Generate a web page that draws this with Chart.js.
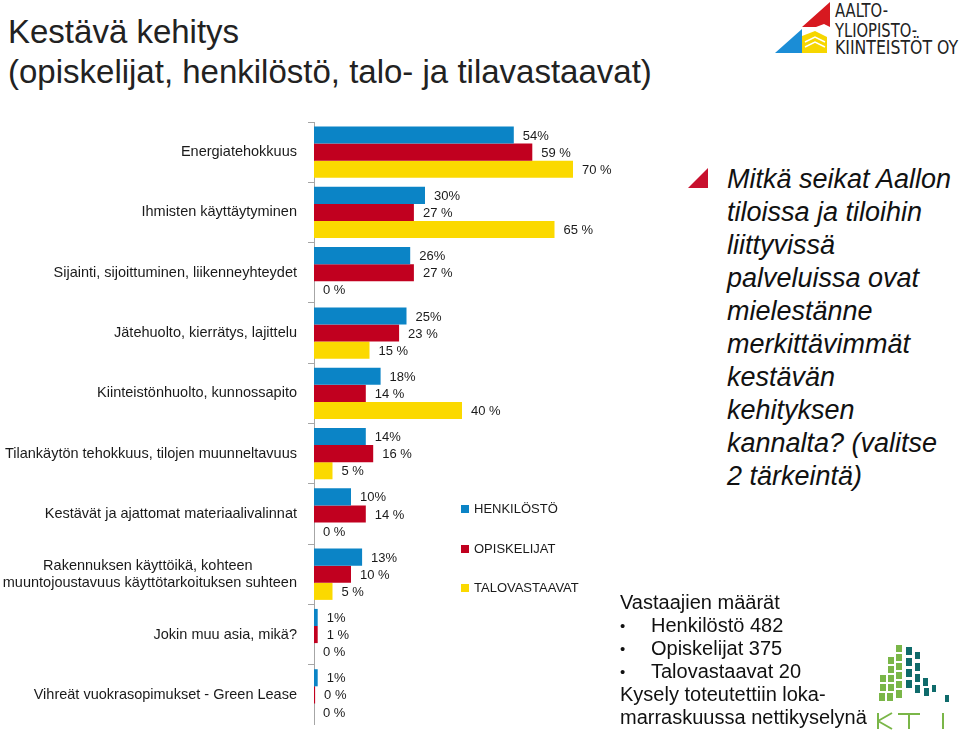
<!DOCTYPE html>
<html>
<head>
<meta charset="utf-8">
<script src="https://cdn.jsdelivr.net/npm/chart.js@4/dist/chart.umd.min.js"></script>
<style>
  body { margin: 0; width: 960px; height: 733px; background: #fff; position: relative; overflow: hidden; font-family: Arial, "Liberation Sans", sans-serif; color: #1a1a1a; }
  #title { position: absolute; left: 8px; top: 12px; font-size: 33px; line-height: 40px; color: #222; }
  #wrap { position: absolute; left: 0; top: 122px; width: 684px; height: 603px; }
  #legend { position: absolute; left: 461px; top: 501px; font-size: 13px; }
  #legend div { height: 39.5px; display: flex; align-items: flex-start; }
  #legend span.box { display: inline-block; width: 8px; height: 8px; margin: 4px 5px 0 0; }
  #question { position: absolute; left: 727px; top: 163px; font-size: 27px; line-height: 33px; font-style: italic; color: #111; }
  #marker { position: absolute; left: 688px; top: 168px; }
  #info { position: absolute; left: 620px; top: 591px; font-size: 20px; line-height: 23px; color: #111; }
  #info .b { padding-left: 31px; position: relative; }
  #info .b:before { content: "\2022"; position: absolute; left: 0; font-size: 15px; }
  #logo { position: absolute; left: 770px; top: 0; }
  #kti { position: absolute; left: 870px; top: 635px; }
</style>
</head>
<body>
<div id="title">Kestävä kehitys<br>(opiskelijat, henkilöstö, talo- ja tilavastaavat)</div>

<svg id="logo" width="190" height="60">
  <polygon points="32,27 60,2 60,27 54,24 46,27" fill="#d71920"/>
  <polygon points="5,53 32,29 32,53" fill="#1b8dd6"/>
  <polygon points="32,53 32,36 45,31 57,37 57,53" fill="#f6d600"/>
  <polyline points="35,42 45,37 55,42" stroke="#fff" stroke-width="1.5" fill="none"/>
  <polyline points="35,47 45,42 55,47" stroke="#fff" stroke-width="1.5" fill="none"/>
  <g font-family="'Liberation Sans Narrow', 'DejaVu Sans Condensed', Arial" font-size="19" fill="#222">
    <text x="65" y="17" textLength="53" lengthAdjust="spacingAndGlyphs">AALTO-</text>
    <text x="65" y="37" textLength="82" lengthAdjust="spacingAndGlyphs">YLIOPISTO-</text>
    <text x="65" y="54" textLength="123" lengthAdjust="spacingAndGlyphs">KIINTEISTÖT OY</text>
  </g>
</svg>

<div id="wrap"><canvas id="chart"></canvas></div>
<div id="legend"></div>

<svg id="marker" width="22" height="22"><polygon points="0,20 20,0 20,20" fill="#c8102e"/></svg>
<div id="question">Mitkä seikat Aallon<br>tiloissa ja tiloihin<br>liittyvissä<br>palveluissa ovat<br>mielestänne<br>merkittävimmät<br>kestävän<br>kehityksen<br>kannalta? (valitse<br>2 tärkeintä)</div>

<div id="info">Vastaajien määrät<div class="b">Henkilöstö 482</div><div class="b">Opiskelijat 375</div><div class="b">Talovastaavat 20</div>Kysely toteutettiin loka-<br>marraskuussa nettikyselynä</div>

<svg id="kti" width="90" height="98">
  <g fill="#7ab648">
    <rect x="10" y="40" width="6" height="7"/><rect x="10" y="49" width="6" height="7"/><rect x="9" y="58" width="6" height="8"/>
    <rect x="18" y="22" width="6" height="7"/><rect x="18" y="31" width="6" height="7"/><rect x="18" y="40" width="6" height="7"/><rect x="18" y="49" width="6" height="7"/><rect x="17" y="58" width="6" height="8"/>
    <rect x="26" y="10" width="6" height="7"/><rect x="26" y="19" width="6" height="7"/><rect x="26" y="28" width="6" height="7"/><rect x="26" y="37" width="6" height="7"/><rect x="26" y="46" width="6" height="7"/><rect x="26" y="55" width="6" height="8"/>
  </g>
  <g fill="#0f6b6b">
    <rect x="36" y="12" width="6" height="8"/><rect x="36" y="23" width="6" height="8"/><rect x="36" y="34" width="6" height="8"/><rect x="36" y="45" width="6" height="8"/>
    <rect x="45" y="17" width="5" height="7"/><rect x="45" y="28" width="5" height="8"/><rect x="45" y="39" width="5" height="8"/><rect x="45" y="50" width="5" height="8"/>
    <rect x="53" y="43" width="5" height="8"/><rect x="54" y="53" width="5" height="8"/>
    <rect x="62" y="50" width="4" height="7"/>
    <rect x="75" y="60" width="4" height="7"/>
  </g>
  <g stroke="#7ab648" stroke-width="2" fill="none">
    <path d="M8,78 V94 M8,86 L22,78 M8,86 L22,94"/>
    <path d="M28,79 H50 M39,79 V94"/>
    <path d="M73,78 V94"/>
  </g>
</svg>

<script>
const categories = [
  'Energiatehokkuus',
  'Ihmisten käyttäytyminen',
  'Sijainti, sijoittuminen, liikenneyhteydet',
  'Jätehuolto, kierrätys, lajittelu',
  'Kiinteistönhuolto, kunnossapito',
  'Tilankäytön tehokkuus, tilojen muunneltavuus',
  'Kestävät ja ajattomat materiaalivalinnat',
  ['Rakennuksen käyttöikä, kohteen', 'muuntojoustavuus käyttötarkoituksen suhteen'],
  'Jokin muu asia, mikä?',
  'Vihreät vuokrasopimukset - Green Lease'
]
const seriesNames = ['HENKILÖSTÖ', 'OPISKELIJAT', 'TALOVASTAAVAT']
const henkilosto = [54, 30, 26, 25, 18, 14, 10, 13, 1, 1]
const opiskelijat = [59, 27, 27, 23, 14, 16, 14, 10, 1, 0.3]
const talovastaavat = [70, 65, 0, 15, 40, 5, 0, 5, 0, 0]

const colors = ['#0b84c6', '#c1001f', '#fbd900']
const suffixes = ['%', ' %', ' %']

// legend
const legend = document.getElementById('legend')
seriesNames.forEach((name, i) => {
  const row = document.createElement('div')
  row.innerHTML = '<span class="box" style="background:' + colors[i] + '"></span>' + name
  legend.appendChild(row)
})

// center multi-line tick labels by padding shorter lines
const tickFont = '14.5px Arial, "Liberation Sans", sans-serif'
const measure = document.createElement('canvas').getContext('2d')
measure.font = tickFont
function centerLines(label) {
  if (!Array.isArray(label)) return label
  const widths = label.map(l => measure.measureText(l).width)
  const max = Math.max(...widths)
  const sp = measure.measureText('\u00a0').width
  return label.map((l, i) => l + '\u00a0'.repeat(Math.round((max - widths[i]) / 2 / sp)))
}

const valueLabels = {
  id: 'valueLabels',
  afterDatasetsDraw(chart) {
    const ctx = chart.ctx
    ctx.save()
    ctx.font = '13px Arial, "Liberation Sans", sans-serif'
    ctx.fillStyle = '#1a1a1a'
    ctx.textBaseline = 'middle'
    chart.data.datasets.forEach((ds, di) => {
      chart.getDatasetMeta(di).data.forEach((bar, i) => {
        ctx.fillText(Math.round(ds.data[i]) + suffixes[di], bar.x + 9, bar.y + 1)
      })
    })
    ctx.restore()
  }
}

const ctx = document.getElementById('chart').getContext('2d')
const chart = new Chart(ctx, {
  type: 'bar',
  data: {
    labels: categories,
    datasets: [
      { label: seriesNames[0], data: henkilosto, backgroundColor: colors[0] },
      { label: seriesNames[1], data: opiskelijat, backgroundColor: colors[1] },
      { label: seriesNames[2], data: talovastaavat, backgroundColor: colors[2] }
    ]
  },
  options: {
    indexAxis: 'y',
    responsive: true,
    maintainAspectRatio: false,
    animation: false,
    categoryPercentage: 0.85,
    barPercentage: 1,
    layout: { padding: 0 },
    plugins: {
      legend: { display: false },
      tooltip: { enabled: false }
    },
    scales: {
      x: { display: false, min: 0, max: 100 },
      y: {
        afterFit(scale) {
          scale.width = 314
          scale.paddingTop = 0
          scale.paddingBottom = 0
        },
        border: { color: '#a6a6a6', width: 1 },
        grid: { offset: true, drawOnChartArea: false, tickLength: 6, color: '#a6a6a6' },
        ticks: {
          padding: 11,
          color: '#1a1a1a',
          font: { size: 14.5, family: 'Arial, "Liberation Sans", sans-serif' },
          callback: function(value) { return centerLines(categories[value]) }
        }
      }
    }
  },
  plugins: [valueLabels]
})
</script>
</body>
</html>
